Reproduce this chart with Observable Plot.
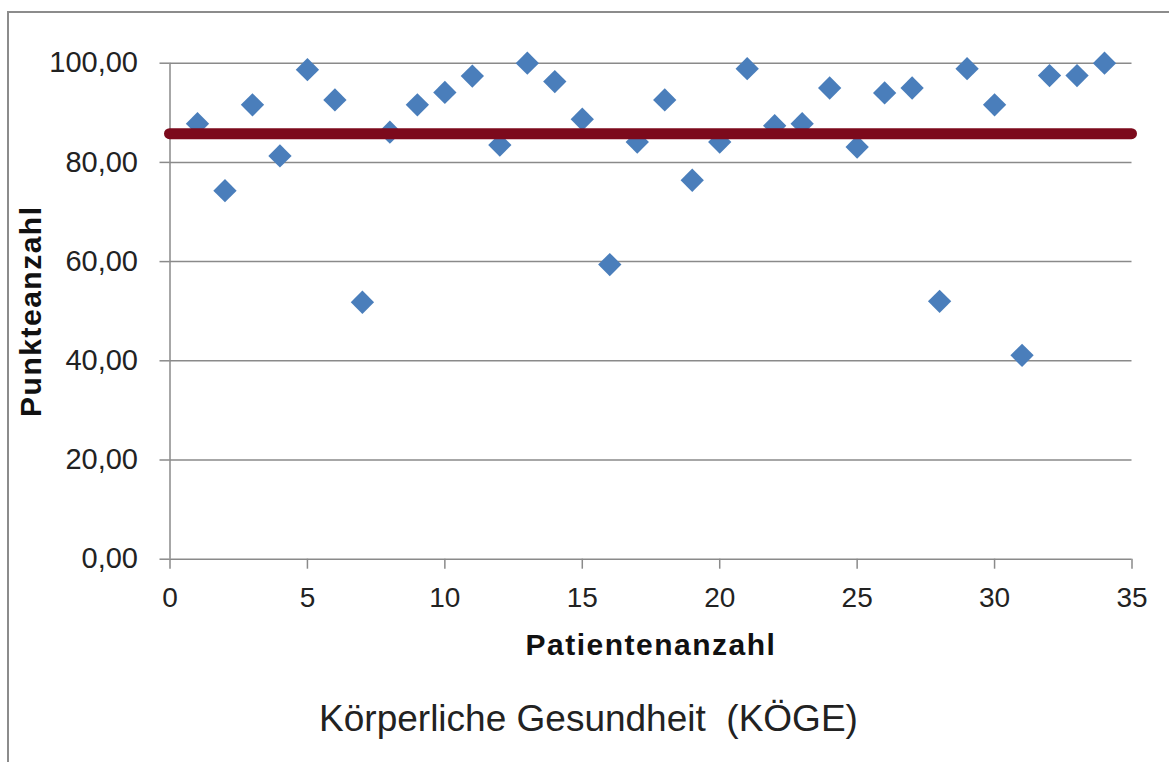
<!DOCTYPE html>
<html><head><meta charset="utf-8">
<script src="https://cdn.jsdelivr.net/npm/d3@7"></script>
<script src="https://cdn.jsdelivr.net/npm/@observablehq/plot@0.6"></script>
<style>
body{margin:0;background:#fff;}
#wrap{position:relative;width:1169px;height:762px;overflow:hidden;font-family:"Liberation Sans",Arial,sans-serif;}
#frame{position:absolute;left:7px;top:11px;width:1200px;height:800px;border-top:2px solid #8c8c8c;border-left:2px solid #8c8c8c;}
#chart{position:absolute;left:0;top:0;}
#caption{position:absolute;left:8px;width:1161px;top:700px;text-align:center;font-size:37px;line-height:37px;white-space:pre;color:#222;}
.ttl text{letter-spacing:1.5px;}
</style></head><body>
<div id="wrap"><div id="frame"></div><div id="chart"></div><div id="caption"></div></div>
<script>
const patients = [1,2,3,4,5,6,7,8,9,10,11,12,13,14,15,16,17,18,19,20,21,22,23,24,25,26,27,28,29,30,31,32,33,34];
const scores = [87.8,74.3,91.6,81.3,98.7,92.6,51.8,86.1,91.6,94.1,97.4,83.5,100.0,96.3,88.7,59.4,84.1,92.6,76.4,84.1,98.9,87.4,87.8,95.0,83.1,94.0,95.0,52.0,98.9,91.6,41.1,97.5,97.5,100.0];
const meanScore = [85.8];
const xTicks = [0,5,10,15,20,25,30,35];
const yTicks = [0,20,40,60,80,100];
const xTitle = "Patientenanzahl";
const yTitle = "Punkteanzahl";
const caption = "Körperliche Gesundheit  (KÖGE)";

const data = patients.map((p, i) => ({patient: p, score: scores[i]}));
const fmt = d => d.toFixed(2).replace(".", ",");
const gray = "#8a8a8a";

const chart = Plot.plot({
  width: 1169, height: 690,
  marginLeft: 169.5, marginRight: 37.5, marginTop: 62.7, marginBottom: 131.3,
  style: {fontFamily: "'Liberation Sans', Arial, sans-serif", background: "transparent", color: "#222"},
  x: {domain: [0, 35]},
  y: {domain: [0, 100]},
  marks: [
    Plot.gridY(yTicks.filter(d => d > 0), {stroke: gray, strokeOpacity: 1, strokeWidth: 1.5}),
    Plot.ruleX([0], {stroke: gray, strokeWidth: 1.5}),
    Plot.ruleY([0], {stroke: gray, strokeWidth: 1.5}),
    Plot.axisY(yTicks, {tickSize: 10, tickPadding: 22, tickFormat: fmt, fontSize: 29, stroke: gray, strokeWidth: 1.5, fill: "#222", label: null}),
    Plot.axisX(xTicks, {tickSize: 10, tickPadding: 18, tickFormat: d => String(d), fontSize: 28, stroke: gray, strokeWidth: 1.5, fill: "#222", label: null}),
    Plot.dot(data, {x: "patient", y: "score", symbol: "diamond2", r: 10.5, fill: "#4a7ebb", stroke: "none"}),
    Plot.ruleY(meanScore, {x1: 0, x2: 35, stroke: "#7c0a1c", strokeWidth: 11, strokeLinecap: "round"}),
    Plot.text([xTitle], {text: d => d, frameAnchor: "bottom", dy: 74.6, lineAnchor: "top", fontWeight: "bold", fontSize: 30, fill: "#111", className: "ttl"}),
    Plot.text([yTitle], {text: d => d, frameAnchor: "left", dx: -150.5, rotate: -90, textAnchor: "middle", lineAnchor: "top", fontWeight: "bold", fontSize: 30, fill: "#111", className: "ttl"})
  ]
});
document.getElementById("chart").append(chart);
document.getElementById("caption").textContent = caption;
</script>
</body></html>
